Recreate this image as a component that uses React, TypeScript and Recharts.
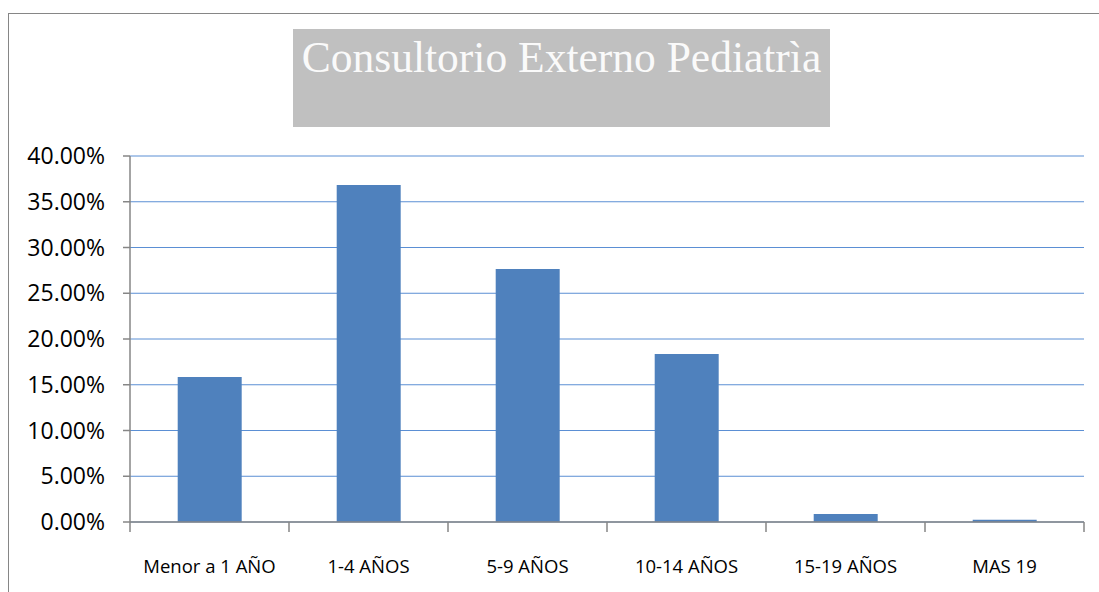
import { Bar, BarChart, CartesianGrid, XAxis, YAxis } from 'recharts'

const categories = ['Menor a 1 AÑO', '1-4 AÑOS', '5-9 AÑOS', '10-14 AÑOS', '15-19 AÑOS', 'MAS 19']
const shares = [0.1585, 0.3683, 0.2765, 0.1836, 0.0087, 0.0025]
const yTicks = [0, 0.05, 0.1, 0.15, 0.2, 0.25, 0.3, 0.35, 0.4]
const title = 'Consultorio Externo Pediatrìa'

const data = categories.map((name, i) => ({ name, value: shares[i] }))

const axisGray = '#868686'
const tickFont = { fontFamily: '"Open Sans", sans-serif', fill: '#000' }

// category label plus tick marks on the band edges (Excel style)
const CategoryTick = (props: any) => {
  const { x, y, payload, index, visibleTicksCount } = props
  const half = payload?.offset ?? 0
  const isLast = index === (visibleTicksCount ?? categories.length) - 1
  return (
    <g>
      <line x1={x - half} x2={x - half} y1={y} y2={y + 10} stroke={axisGray} strokeWidth={1.5} />
      {isLast && <line x1={x + half} x2={x + half} y1={y} y2={y + 10} stroke={axisGray} strokeWidth={1.5} />}
      <text x={x} y={y + 38} dy="0.71em" textAnchor="middle" fontSize={18.5} {...tickFont}>
        {payload.value}
      </text>
    </g>
  )
}

const App = () => {
  return (
    <div style={{ position: 'absolute', left: 0, top: 0, width: 1099, height: 592, background: '#fff', overflow: 'hidden' }}>
      <div
        style={{
          position: 'absolute',
          left: 8,
          top: 13,
          right: 0,
          bottom: -10,
          borderLeft: `1.5px solid ${axisGray}`,
          borderTop: `1.5px solid ${axisGray}`,
        }}
      />
      <div
        style={{
          position: 'absolute',
          left: 293,
          top: 29,
          width: 537,
          height: 98,
          background: '#c0c0c0',
          color: '#fafafa',
          fontFamily: '"Liberation Serif", serif',
          fontSize: 43.5,
          lineHeight: '42px',
          paddingTop: 7,
          boxSizing: 'border-box',
          textAlign: 'center',
          whiteSpace: 'nowrap',
        }}
      >
        {title}
      </div>
      <div style={{ position: 'absolute', left: 0, top: 0 }}>
        <BarChart
          width={1099}
          height={592}
          data={data}
          margin={{ top: 156, right: 15, bottom: 0, left: 0 }}
          barCategoryGap="30%"
        >
          <CartesianGrid vertical={false} stroke="#5B8FD4" strokeWidth={1} />
          <XAxis
            dataKey="name"
            tickLine={false}
            tickSize={0}
            tickMargin={0}
            height={70}
            interval={0}
            stroke={axisGray}
            strokeWidth={1.5}
            tick={<CategoryTick />}
          />
          <YAxis
            domain={[0, 0.4]}
            ticks={yTicks}
            width={130}
            tickSize={7}
            tickMargin={18}
            stroke={axisGray}
            strokeWidth={1.5}
            tickFormatter={(v: number) => `${(v * 100).toFixed(2)}%`}
            tick={{ ...tickFont, fontSize: 23 }}
          />
          <Bar dataKey="value" fill="#4F81BD" isAnimationActive={false} />
        </BarChart>
      </div>
    </div>
  )
}

export default App
